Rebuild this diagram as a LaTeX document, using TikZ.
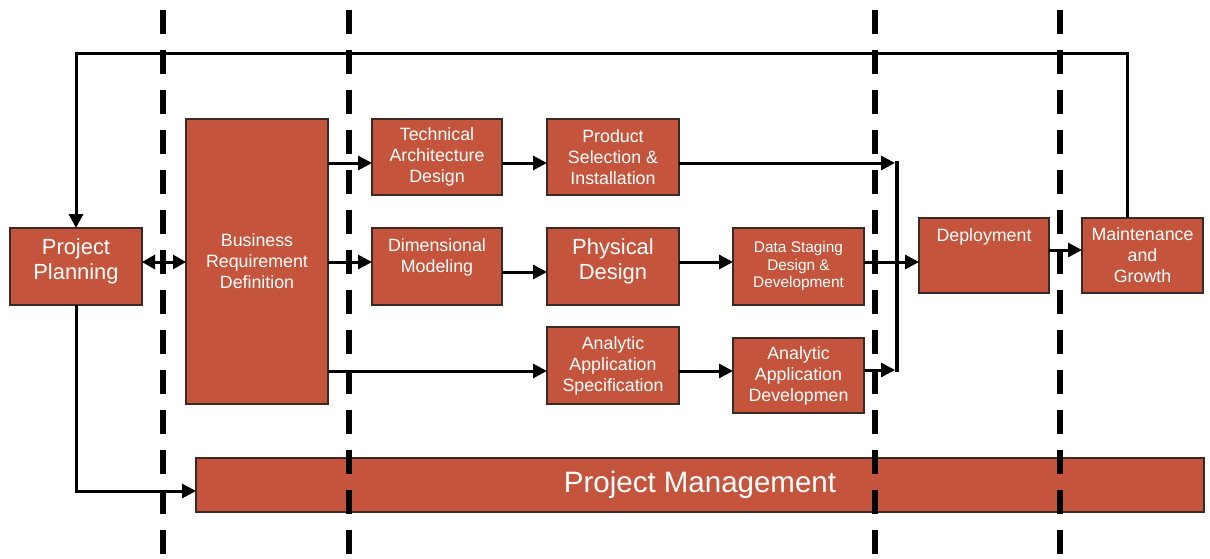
\documentclass[tikz,border=0pt]{standalone}
\usepackage{fontspec}
\setmainfont{Liberation Sans}
\usetikzlibrary{arrows.meta}
\definecolor{boxfill}{HTML}{C5543C}
\definecolor{boxedge}{HTML}{3A2A25}
\begin{document}
\begin{tikzpicture}[x=1pt,y=-1pt,
  box/.style={draw=boxedge, line width=1.2pt, fill=boxfill, text=white, align=center, inner sep=0pt, outer sep=0pt},
  fs/.style={font=\fontsize{17.8}{21}\selectfont},
  fb/.style={font=\fontsize{21.9}{25}\selectfont},
  fsm/.style={font=\fontsize{15.4}{17.5}\selectfont},
  lbl/.style={text=white, align=center, inner sep=0pt},
  conn/.style={line width=3pt, -{Triangle[length=14pt,width=14pt]}},
  twoway/.style={line width=3pt, {Triangle[length=13pt,width=14pt]}-{Triangle[length=13pt,width=14pt]}},
  bar/.style={line width=4pt},
  sep/.style={line width=6pt, dash pattern=on 24pt off 16pt},
]
\useasboundingbox (0,0) rectangle (1210,558);

% boxes
\node[box, minimum width=132pt, minimum height=77pt,
  label={[lbl, fb, yshift=5pt]center:Project\\Planning}] (pp) at (76,266.5) {};
\node[box, fs, minimum width=142pt, minimum height=285pt] (brd) at (257,261.5) {Business\\Requirement\\Definition};
\node[box, fs, minimum width=130pt, minimum height=76pt] (tad) at (437,157) {Technical\\Architecture\\Design};
\node[box, fs, minimum width=132pt, minimum height=76pt] (ps) at (613,157) {Product\\Selection \&\\Installation};
\node[box, minimum width=130pt, minimum height=77pt,
  label={[lbl, fs, yshift=9pt]center:Dimensional\\Modeling}] (dm) at (437,266.5) {};
\node[box, minimum width=132pt, minimum height=77pt,
  label={[lbl, fb, yshift=5pt]center:Physical\\Design}] (pd) at (613,266.5) {};
\node[box, fsm, minimum width=131pt, minimum height=77pt] (ds) at (798.5,266.5) {Data Staging\\Design \&\\Development};
\node[box, fs, minimum width=132pt, minimum height=77pt] (aas) at (613,365.5) {Analytic\\Application\\Specification};
\node[box, fs, minimum width=131pt, minimum height=75pt] (aad) at (798.5,375.5) {Analytic\\Application\\Developmen};
\node[box, minimum width=130pt, minimum height=75pt,
  label={[lbl, fs, anchor=north, yshift=-10pt]north:Deployment}] (dep) at (984,255.5) {};
\node[box, fs, minimum width=121pt, minimum height=75pt] (mg) at (1142.5,255.5) {Maintenance\\and\\Growth};
\node[box, font=\fontsize{29.5}{34}\selectfont, minimum width=1008pt, minimum height=54pt] (pm) at (700,485) {Project Management};

% row levels
\coordinate (r1) at (0,163);
\coordinate (r2) at (0,262);
\coordinate (r2b) at (0,272);
\coordinate (r3) at (0,371);
\coordinate (r4) at (0,250);
\coordinate (mt) at (897,161);
\coordinate (mb) at (897,372);
\coordinate (mi1) at (895,163);
\coordinate (mi3) at (895,370);
\coordinate (tl) at (1127,53);
\coordinate (bl) at (76,491);

% connectors
\draw[twoway] (pp.east |- r2) -- (brd.west |- r2);
\draw[conn] (brd.east |- r1) -- (tad.west |- r1);
\draw[conn] (brd.east |- r2) -- (dm.west |- r2);
\draw[conn] (brd.east |- r3) -- (aas.west |- r3);
\draw[conn] (tad.east |- r1) -- (ps.west |- r1);
\draw[conn] (dm.east |- r2b) -- (pd.west |- r2b);
\draw[conn] (pd.east |- r2) -- (ds.west |- r2);
\draw[conn] (aas.east |- r3) -- (aad.west |- r3);
\draw[conn] (ps.east |- mi1) -- (mi1);
\draw[conn] (aad.east |- mi3) -- (mi3);
\draw[bar] (mt) -- (mb);
\draw[conn] (ds.east |- r2) -- (dep.west |- r2);
\draw[conn] (dep.east |- r4) -- (mg.west |- r4);
\draw[conn] (mg.north -| tl) -- (tl) -- (tl -| pp.north) -- (pp.north);
\draw[conn] (pp.south) -- (bl) -- (bl -| pm.west);

% phase separators
\draw[sep] (163,10) -- (163,558);
\draw[sep] (349,10) -- (349,558);
\draw[sep] (875,10) -- (875,558);
\draw[sep] (1060,10) -- (1060,558);
\end{tikzpicture}
\end{document}
